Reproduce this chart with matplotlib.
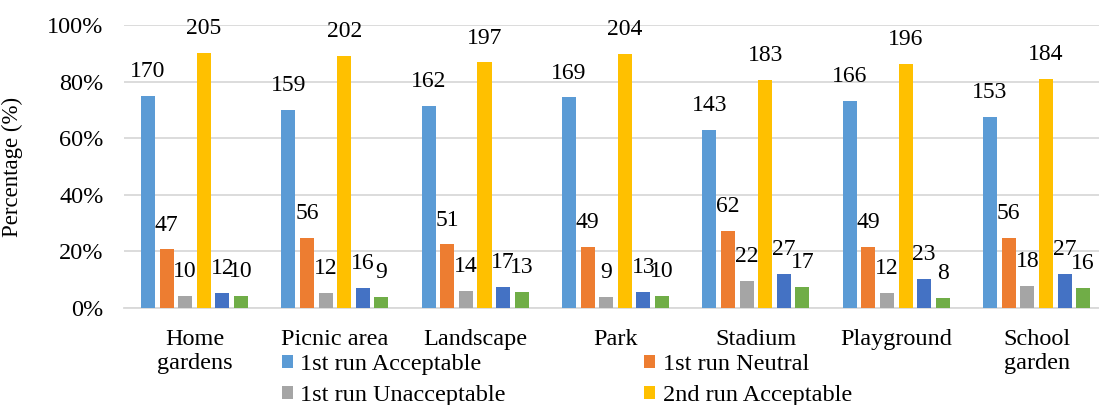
import matplotlib.pyplot as plt
import numpy as np
from matplotlib.ticker import PercentFormatter

plt.rcParams['font.family'] = ['Liberation Serif', 'DejaVu Serif']

categories = ["Home\ngardens", "Picnic area", "Landscape", "Park",
              "Stadium", "Playground", "School\ngarden"]
series_names = ["1st run Acceptable", "1st run Neutral", "1st run Unacceptable",
                "2nd run Acceptable", "2nd run Neutral", "2nd run Unacceptable"]

# respondent counts per location (data labels)
first_acc = [170, 159, 162, 169, 143, 166, 153]
first_neu = [47, 56, 51, 49, 62, 49, 56]
first_unacc = [10, 12, 14, 9, 22, 12, 18]
second_acc = [205, 202, 197, 204, 183, 196, 184]
second_neu = [12, 16, 17, 13, 27, 23, 27]
second_unacc = [10, 9, 13, 10, 17, 8, 16]

colors = ["#5B9BD5", "#ED7D31", "#A5A5A5", "#FFC000", "#4472C4", "#70AD47"]

series = [first_acc, first_neu, first_unacc, second_acc, second_neu, second_unacc]
total = first_acc[0] + first_neu[0] + first_unacc[0]

fig = plt.figure(figsize=(10.99, 4.05), dpi=100)
# plot area runs slightly past the right edge, like the cropped original
ax = fig.add_axes([0.1131, 0.2395, 0.894, 0.6985])

x = np.arange(len(categories))
step = 0.1326
width = 0.10
bars = []
for i, (vals, col) in enumerate(zip(series, colors)):
    pct = np.array(vals) / total
    pos = x + (i - 2.5) * step
    b = ax.bar(pos, pct, width=width, color=col, zorder=3)
    bars.append(b)
    for xp, yp, v in zip(pos, pct, vals):
        ax.annotate(str(v), (xp, yp), xytext=(0, 10), textcoords='offset points',
                    ha='center', va='bottom', fontsize=17, clip_on=False)

ax.set_xlim(-0.5, len(categories) - 0.5)
ax.set_ylim(0, 1.0)
ax.set_yticks(np.arange(0, 1.01, 0.2))
ax.yaxis.set_major_formatter(PercentFormatter(1.0, decimals=0))
ax.set_xticks(x)
ax.set_xticklabels(categories, fontsize=17.5, linespacing=1.2)
ax.tick_params(axis='both', length=0, labelsize=17.5)
ax.tick_params(axis='x', pad=15)
ax.tick_params(axis='y', pad=15)
ax.set_ylabel("Percentage (%)", fontsize=16.5, labelpad=6)
ax.yaxis.set_label_coords(-0.103, 0.5)
ax.grid(axis='y', color='#D9D9D9', linewidth=1.3, zorder=0)
for s in ["top", "right", "left"]:
    ax.spines[s].set_visible(False)
ax.spines["bottom"].set_color('#D9D9D9')
ax.spines["bottom"].set_linewidth(1.3)

# only the first four series appear in the (cropped) legend, filled row by row
order = [0, 2, 1, 3]
fig.legend([bars[k] for k in order], [series_names[k] for k in order],
           ncol=2, loc='upper left', bbox_to_anchor=(0.2566, 0.125),
           frameon=False, fontsize=17.5, handlelength=0.45, handleheight=0.45,
           handletextpad=0.3, columnspacing=5.7, labelspacing=0.4,
           borderaxespad=0, borderpad=0)

plt.savefig('out.png', dpi=100)
